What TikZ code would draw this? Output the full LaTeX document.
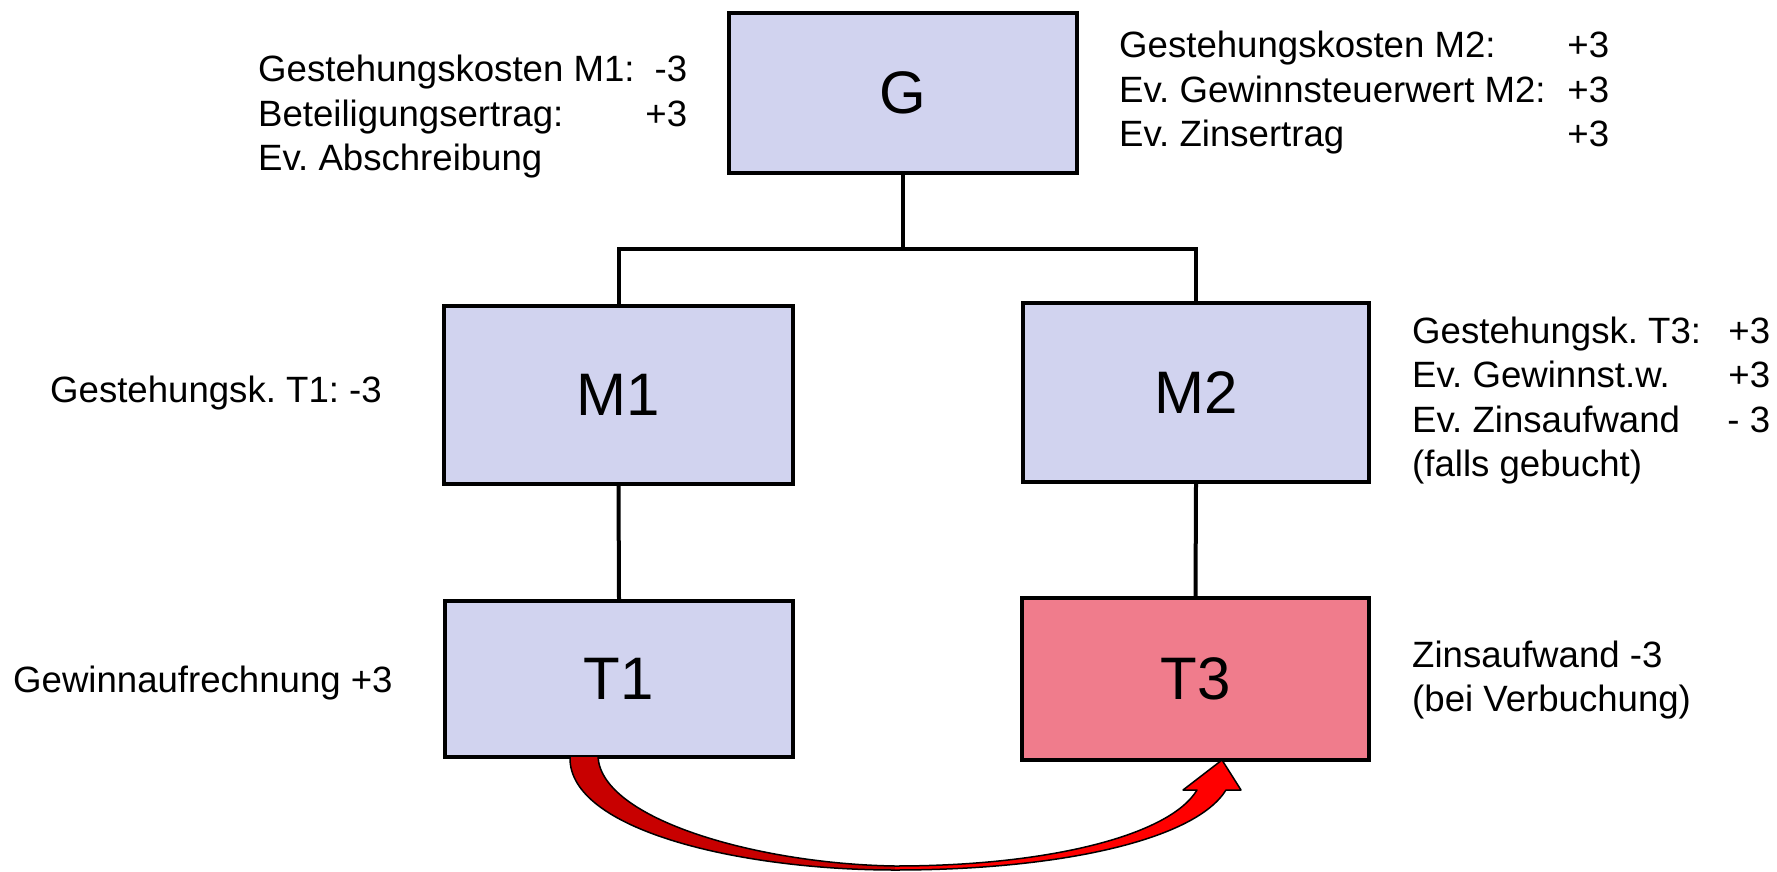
\documentclass[tikz,border=0pt]{standalone}
\usepackage{fontspec}
\setmainfont{Liberation Sans}
\definecolor{boxfill}{HTML}{D1D3EF}
\definecolor{hotfill}{HTML}{F07C8C}
\definecolor{ribbondark}{HTML}{C80000}
\definecolor{ribbonlight}{HTML}{FF0000}
% label with a value right-aligned at a fixed distance from the line start
\newcommand\lineval[3]{\makebox[#1pt][l]{#2}\llap{#3}}
\frenchspacing
\begin{document}
\begin{tikzpicture}[x=1pt,y=-1pt,
  box/.style={draw=black, line width=3.5pt, fill=boxfill, inner sep=0pt,
    font=\fontsize{60}{72}\selectfont},
  conn/.style={line width=4pt},
  note/.style={anchor=base west, inner sep=0pt,
    font=\fontsize{36.6}{44.5}\selectfont},
  ribbon/.style={draw=black, line width=1.5pt, line join=round}]
\useasboundingbox (0,0) rectangle (1777,872);

% entities
\node[box, minimum width=348pt, minimum height=160pt] (G)  at (903,93)    {G};
\node[box, minimum width=349pt, minimum height=178pt] (M1) at (618.5,395) {M1};
\node[box, minimum width=346pt, minimum height=179pt] (M2) at (1196,392.5) {M2};
\node[box, minimum width=348pt, minimum height=156pt] (T1) at (619,679)   {T1};
\node[box, fill=hotfill, minimum width=347pt, minimum height=162pt] (T3) at (1195.5,679) {T3};

% ownership tree
\draw[conn] (G.south) -- ++(0,74) coordinate (jn);
\draw[conn] (M1.north) |- (jn) -| (M2.north);
\draw[conn] (M1.south) -- (T1.north);
\draw[conn] (M2.south) -- (T3.north);

% curved block arrow from T1 to T3
\fill[ribbondark] (570,757) .. controls (568,830) and (740,870) .. (895,870)
  -- (895,866) .. controls (760,864) and (602,820) .. (598,757) -- cycle;
\fill[ribbonlight] (895,870) .. controls (1060,870) and (1195,840) .. (1226,790)
  -- (1241,790) -- (1222,760) -- (1183,790) -- (1197,790)
  .. controls (1170,835) and (1050,866) .. (895,866) -- cycle;
\draw[ribbon] (570,757) .. controls (568,830) and (740,870) .. (895,870)
  .. controls (1060,870) and (1195,840) .. (1226,790)
  -- (1241,790) -- (1222,760) -- (1183,790) -- (1197,790)
  .. controls (1170,835) and (1050,866) .. (895,866)
  .. controls (760,864) and (602,820) .. (598,757);

% annotations
\node[note] (nG) at (258,82) {\begin{tabular}[t]{@{}l@{}}
  \lineval{429}{Gestehungskosten M1:}{-3}\\
  \lineval{429}{Beteiligungsertrag:}{+3}\\
  Ev. Abschreibung
  \end{tabular}};
\node[note] (nGr) at (1119,58) {\begin{tabular}[t]{@{}l@{}}
  \lineval{490}{Gestehungskosten M2:}{+3}\\
  \lineval{490}{Ev. Gewinnsteuerwert M2:}{+3}\\
  \lineval{490}{Ev. Zinsertrag}{+3}
  \end{tabular}};
\node[note] (nM1) at (50,402) {Gestehungsk. T1: -3};
\node[note] (nM2) at (1412,343) {\begin{tabular}[t]{@{}l@{}}
  \lineval{358}{Gestehungsk. T3:}{+3}\\
  \lineval{358}{Ev. Gewinnst.w.}{+3}\\
  \lineval{358}{Ev. Zinsaufwand}{- 3}\\
  (falls gebucht)
  \end{tabular}};
\node[note] (nT1) at (13,692) {Gewinnaufrechnung +3};
\node[note] (nT3) at (1412,667) {\begin{tabular}[t]{@{}l@{}}
  Zinsaufwand -3\\
  (bei Verbuchung)
  \end{tabular}};
\end{tikzpicture}
\end{document}
